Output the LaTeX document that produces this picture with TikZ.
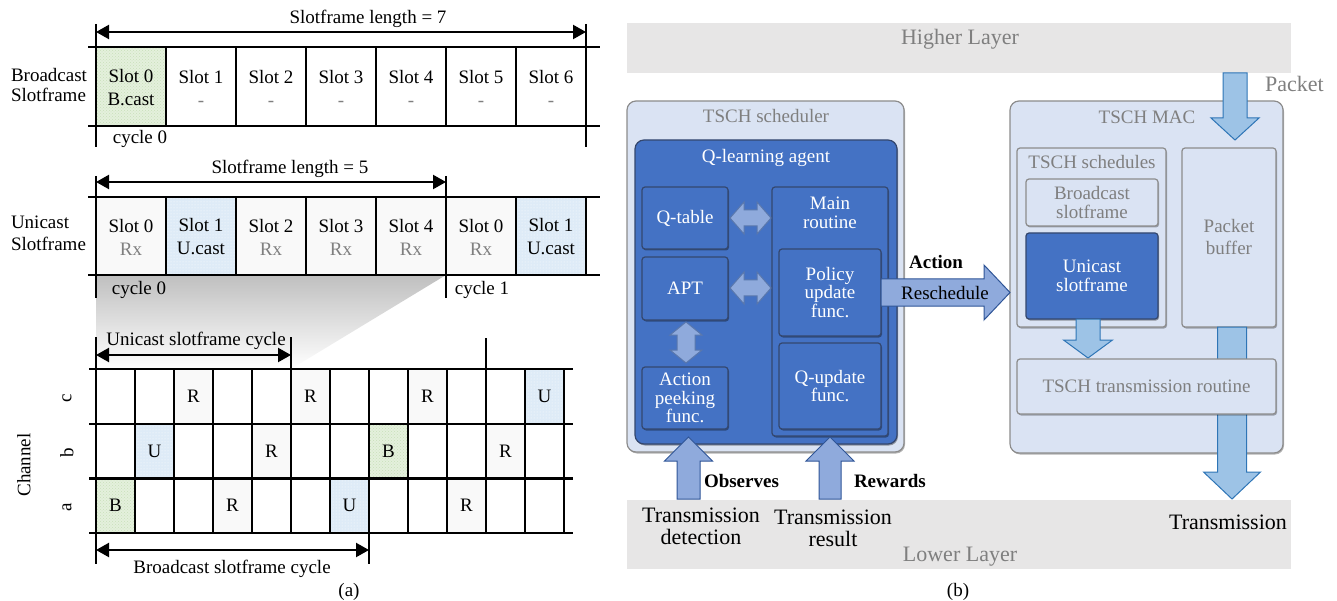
\documentclass[tikz,border=0pt]{standalone}
\usepackage{fontspec}
\setmainfont{Liberation Serif}
\usetikzlibrary{shadows,arrows.meta,calc,patterns}
\definecolor{lb}{HTML}{DAE3F3}
\definecolor{qb}{HTML}{4472C4}
\definecolor{qbd}{HTML}{34476E}
\definecolor{bgr}{HTML}{8C8C8C}
\definecolor{arra}{HTML}{8FAADC}
\definecolor{arrad}{HTML}{2F5597}
\definecolor{arrb}{HTML}{9DC3E6}
\definecolor{arrbd}{HTML}{2E75B6}
\definecolor{layer}{HTML}{E7E6E6}
\definecolor{tgray}{HTML}{7F7F7F}
\definecolor{gcell}{HTML}{E4F0DC}
\definecolor{gdot}{HTML}{C9DFBA}
\definecolor{bcell}{HTML}{DEEBF7}
\definecolor{rcell}{HTML}{F9F9F9}
\newcommand{\blockv}[7]{\filldraw[#1] ({#2-#6},#3) -- ({#2-#6},#4) -- ({#2-#7},#4) -- (#2,#5) -- ({#2+#7},#4) -- ({#2+#6},#4) -- ({#2+#6},#3) -- cycle;}
\newcommand{\blockh}[7]{\filldraw[#1] (#3,{#2-#6}) -- (#4,{#2-#6}) -- (#4,{#2-#7}) -- (#5,#2) -- (#4,{#2+#7}) -- (#4,{#2+#6}) -- (#3,{#2+#6}) -- cycle;}
% double block arrows: style, fixed coord, start, end, half shaft, half head, head length
\newcommand{\dblh}[7]{\filldraw[#1] (#3,#2) -- ({#3+#7},{#2-#6}) -- ({#3+#7},{#2-#5}) -- ({#4-#7},{#2-#5}) -- ({#4-#7},{#2-#6}) -- (#4,#2) -- ({#4-#7},{#2+#6}) -- ({#4-#7},{#2+#5}) -- ({#3+#7},{#2+#5}) -- ({#3+#7},{#2+#6}) -- cycle;}
\newcommand{\dblv}[7]{\filldraw[#1] (#2,#3) -- ({#2-#6},{#3+#7}) -- ({#2-#5},{#3+#7}) -- ({#2-#5},{#4-#7}) -- ({#2-#6},{#4-#7}) -- (#2,#4) -- ({#2+#6},{#4-#7}) -- ({#2+#5},{#4-#7}) -- ({#2+#5},{#3+#7}) -- ({#2+#6},{#3+#7}) -- cycle;}
\newcommand{\gridcell}[4]{%
  \fill[#3] ({96+39*#1},{369+54.7*#2}) rectangle ({135+39*#1},{369+54.7*(#2+1)});
  \node[slot] (g#1-#2) at ({115.5+39*#1},{369+54.7*(#2+0.5)}) {#4};}
\tikzset{
  slot/.style={font=\fontsize{19}{23}\selectfont, align=center},
  fr/.style={line width=2.4pt},
  dim/.style={line width=2.2pt, {Triangle[length=13pt,width=14pt]}-{Triangle[length=13pt,width=14pt]}},
  gfill/.style={fill=gcell, postaction={pattern=crosshatch dots, pattern color=gdot}},
  bfill/.style={fill=bcell, postaction={pattern=dots, pattern color=white}},
  rfill/.style={fill=rcell},
  lightbox/.style={draw=bgr, fill=lb, line width=1.2pt, rounded corners=3pt,
     drop shadow={shadow xshift=1pt, shadow yshift=-1.5pt, opacity=0.3, fill=black}},
  outerbox/.style={lightbox, rounded corners=9pt},
  bluebox/.style={draw=qbd, fill=qb, line width=1.2pt, rounded corners=3pt, text=white,
     font=\fontsize{19}{18.5}\selectfont, align=center,
     drop shadow={shadow xshift=1pt, shadow yshift=-1.5pt, opacity=0.35, fill=black}},
  gtext/.style={text=tgray, font=\fontsize{19}{18.5}\selectfont, align=center},
  wtext/.style={text=white, font=\fontsize{19}{18.5}\selectfont, align=center},
  btext/.style={font=\fontsize{22}{22}\selectfont, align=center},
  boldt/.style={font=\fontsize{19}{19}\selectfont\bfseries},
  darr/.style={draw=arrad!80, fill=arra, line width=1pt, line join=miter},
  arrA/.style={draw=arrad, fill=arra, line width=1pt},
  arrB/.style={draw=arrbd, fill=arrb, line width=1pt},
}
\begin{document}
\begin{tikzpicture}[x=1pt,y=-1pt, every node/.style={inner sep=0pt, outer sep=0pt}]
\useasboundingbox (0,0) rectangle (1337,601);
%================= (a) =================
\shade[top color=gray!50, bottom color=white] (96,275) -- (446,275) -- (291,369) -- (96,369) -- cycle;
% broadcast slotframe
\fill[gfill] (96,47) rectangle (166,126);
\draw[fr] (88,47) -- (600,47);
\draw[fr] (88,126) -- (600,126);
\foreach \k in {1,...,6} \draw[fr] ({96+70*\k},47) -- ({96+70*\k},126);
\coordinate (ta) at (96,32); \coordinate (tb) at (586,32);
\draw[fr] (96,24) -- (96,147);
\draw[fr] (586,24) -- (586,147);
\draw[dim] (ta) -- (tb);
\node[slot] (tl) at (368,19) {Slotframe length = 7};
\node[slot, anchor=west, align=left, font=\fontsize{19}{20}\selectfont] (bsl) at (11,85) {Broadcast\\Slotframe};
\node[slot] (bs0) at (131,88) {Slot 0\\B.cast};
\foreach \k in {1,...,6} \node[slot] (bs\k) at ({131+70*\k},88) {Slot \k\\\textcolor{tgray}{-}};
\node[slot] (bc0) at (140,139) {cycle 0};
% unicast slotframe
\foreach \k in {0,2,3,4,5} \fill[rfill] ({96+70*\k},197) rectangle ({166+70*\k},275);
\foreach \k in {1,6} \fill[bfill] ({96+70*\k},197) rectangle ({166+70*\k},275);
\draw[fr] (88,197) -- (600,197);
\draw[fr] (88,275) -- (600,275);
\foreach \k in {1,...,6} \draw[fr] ({96+70*\k},197) -- ({96+70*\k},275);
\draw[fr] (586,197) -- (586,275);
\draw[fr] (96,176) -- (96,298);
\draw[fr] (446,176) -- (446,298);
\coordinate (ua) at (96,182); \coordinate (ub) at (446,182);
\draw[dim] (ua) -- (ub);
\node[slot] (ul) at (290,169) {Slotframe length = 5};
\node[slot, anchor=west, align=left, font=\fontsize{19}{22}\selectfont] (usl) at (11,233) {Unicast\\Slotframe};
\foreach \k/\n/\t in {0/0/Rx,2/2/Rx,3/3/Rx,4/4/Rx,5/0/Rx}
  \node[slot] (us\k) at ({131+70*\k},237) {Slot \n\\\textcolor{tgray}{\t}};
\node[slot] (us1) at (201,237) {Slot 1\\U.cast};
\node[slot] (us6) at (551,237) {Slot 1\\U.cast};
\node[slot] (uc0) at (139,290) {cycle 0};
\node[slot] (uc1) at (482,290) {cycle 1};
% channel grid
\gridcell{2}{0}{rfill}{R}
\gridcell{5}{0}{rfill}{R}
\gridcell{8}{0}{rfill}{R}
\gridcell{11}{0}{bfill}{U}
\gridcell{1}{1}{bfill}{U}
\gridcell{4}{1}{rfill}{R}
\gridcell{7}{1}{gfill}{B}
\gridcell{10}{1}{rfill}{R}
\gridcell{0}{2}{gfill}{B}
\gridcell{3}{2}{rfill}{R}
\gridcell{6}{2}{bfill}{U}
\gridcell{9}{2}{rfill}{R}
\foreach \r in {0,...,3} \draw[fr] (89,{369+54.7*\r}) -- (573,{369+54.7*\r});
\foreach \k in {0,...,12} \draw[fr] ({96+39*\k},369) -- ({96+39*\k},533.1);
\draw[fr] (96,337) -- (96,369);
\draw[fr] (291,337) -- (291,369);
\draw[fr] (486,338) -- (486,369);
\coordinate (ca) at (96,355); \coordinate (cb) at (291,355);
\draw[dim] (ca) -- (cb);
\node[slot] (ucl) at (196,341) {Unicast slotframe cycle};
\draw[fr] (96,533) -- (96,564);
\draw[fr] (369,533) -- (369,564);
\coordinate (da) at (96,550); \coordinate (db) at (369,550);
\draw[dim] (da) -- (db);
\node[slot] (bcl) at (232,569) {Broadcast slotframe cycle};
\node[slot, rotate=90] (chan) at (24,465) {Channel};
\node[slot, rotate=90] (chc) at (67,398) {c};
\node[slot, rotate=90] (chb) at (67,453) {b};
\node[slot, rotate=90] (cha) at (67,507) {a};
\node[slot] (capa) at (349,592) {(a)};
%================= (b) =================
\node[fill=layer, minimum width=664pt, minimum height=50pt] (higher) at (959,48) {};
\node[text=tgray, font=\fontsize{22}{22}\selectfont] (highert) at (960,39) {Higher Layer};
\node[fill=layer, minimum width=664pt, minimum height=69pt] (lower) at (959,534.5) {};
\node[text=tgray, font=\fontsize{22}{22}\selectfont] (lowert) at (960,557) {Lower Layer};
% scheduler
\node[outerbox, minimum width=277pt, minimum height=351pt] (sched) at (765.5,276.5) {};
\node[gtext] (schedt) at (766,116) {TSCH scheduler};
\node[bluebox, rounded corners=9pt, minimum width=262pt, minimum height=304pt] (agent) at (766,292) {};
\node[wtext] (agentt) at (766,158) {Q-learning agent};
\node[bluebox, minimum width=86pt, minimum height=62pt] (qtab) at (685,218) {Q-table};
\node[bluebox, minimum width=86pt, minimum height=63pt] (apt) at (685,288.5) {APT};
\node[bluebox, minimum width=86pt, minimum height=62pt] (peek) at (685,398) {Action\\peeking\\func.};
\node[bluebox, minimum width=116pt, minimum height=249pt] (main) at (830,311.5) {};
\node[wtext] (maint) at (830,213) {Main\\routine};
\node[bluebox, minimum width=102pt, minimum height=87pt] (policy) at (830,292.5) {Policy\\update\\func.};
\node[bluebox, minimum width=102pt, minimum height=86pt] (qupd) at (830,386) {Q-update\\func.};
\dblh{darr}{218}{730}{771}{8}{16}{14}
\dblh{darr}{288}{730}{771}{8}{16}{14}
\dblv{darr}{686}{322}{363}{9}{16}{13}
% MAC
\node[outerbox, minimum width=273pt, minimum height=352pt] (mac) at (1146.5,277) {};
\node[gtext] (mact) at (1147,117) {TSCH MAC};
\node[lightbox, minimum width=149pt, minimum height=179pt] (scheds) at (1091.5,237.5) {};
\node[gtext] (schedst) at (1092,162) {TSCH schedules};
\node[lightbox, minimum width=132pt, minimum height=47pt, gtext] (bsf) at (1092,202.5) {Broadcast\\slotframe};
\node[bluebox, minimum width=132pt, minimum height=86pt] (usf) at (1092,276) {Unicast\\slotframe};
\node[lightbox, minimum width=94pt, minimum height=179pt, gtext, font=\fontsize{19}{22}\selectfont] (pbuf) at (1229,237.5) {Packet\\buffer};
% arrows in MAC
\blockv{arrB}{1235}{73}{118}{140}{12}{24}
\node[text=tgray, font=\fontsize{22}{22}\selectfont, anchor=west] (pkt) at (1265,84) {Packet};
\blockv{arrB}{1232}{327}{472}{499}{14.5}{28.5}
\blockv{arrB}{1088}{319}{340}{358}{12}{24.5}
\node[lightbox, minimum width=259pt, minimum height=55pt, gtext] (route) at (1146.5,386.5) {TSCH transmission routine};
% scheduler arrows
\blockv{arrA}{688.5}{499}{461}{437}{11.5}{24}
\blockv{arrA}{830}{499}{461}{437}{11}{24}
\blockh{arrA}{292.5}{881}{984}{1010}{13.5}{27.5}
\node[boldt] (act) at (936,262) {Action};
\node[font=\fontsize{19}{19}\selectfont] (resch) at (945,293) {Reschedule};
\node[boldt, anchor=west] (obs) at (704,481) {Observes};
\node[boldt, anchor=west] (rew) at (854,481) {Rewards};
\node[btext] (tdet) at (701,526) {Transmission\\detection};
\node[btext] (tres) at (833,528) {Transmission\\result};
\node[btext] (ttx) at (1228,522) {Transmission};
\node[slot] (capb) at (958,592) {(b)};
\end{tikzpicture}
\end{document}
